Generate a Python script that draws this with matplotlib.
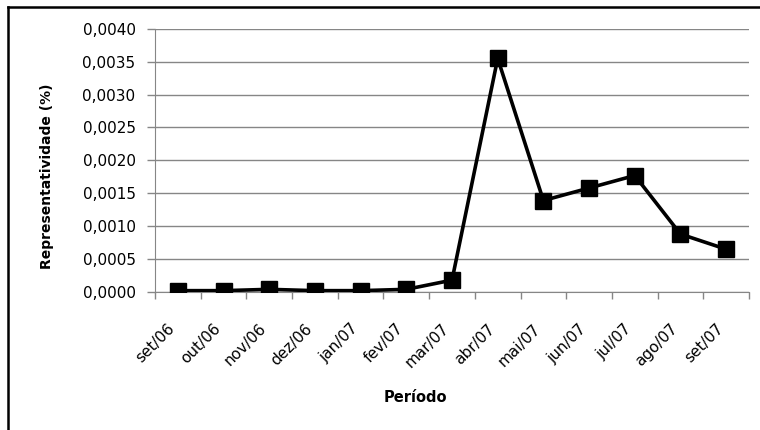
import matplotlib
matplotlib.use("Agg")
import matplotlib.pyplot as plt
from matplotlib.lines import Line2D
from matplotlib.ticker import FuncFormatter, FixedLocator, MultipleLocator

# dados
periodos = ['set/06', 'out/06', 'nov/06', 'dez/06', 'jan/07', 'fev/07', 'mar/07',
            'abr/07', 'mai/07', 'jun/07', 'jul/07', 'ago/07', 'set/07']
representatividade = [0.00002, 0.00002, 0.00004, 0.00002, 0.00002, 0.00004, 0.00018,
                      0.00355, 0.00139, 0.00158, 0.00177, 0.00088, 0.00065]

plt.rcParams['font.family'] = ['DejaVu Sans']

fig = plt.figure(figsize=(7.6, 4.3), dpi=100)
ax = fig.add_axes([0.204, 0.321, 0.7815, 0.612])

x = list(range(len(periodos)))
ax.plot(x, representatividade, color='black', linewidth=2.6,
        marker='s', markersize=12, markerfacecolor='black', zorder=3)

ax.set_xlim(-0.5, len(periodos) - 0.5)
ax.set_ylim(0, 0.004)
ax.yaxis.set_major_locator(MultipleLocator(0.0005))
ax.yaxis.set_major_formatter(FuncFormatter(lambda v, p: ('%.4f' % v).replace('.', ',')))
ax.grid(axis='y', color='#868686', linewidth=1.0)
ax.set_axisbelow(True)

# rotulos nas categorias, marcas entre as categorias
ax.set_xticks(x)
ax.set_xticklabels(periodos, rotation=45, ha='right', fontsize=11)
ax.tick_params(axis='x', which='major', length=0, pad=21)
ax.xaxis.set_minor_locator(FixedLocator([i - 0.5 for i in range(len(periodos) + 1)]))
ax.tick_params(axis='x', which='minor', length=5, color='#868686', width=1.0)
ax.tick_params(axis='y', length=6, color='#868686', width=1.0, labelsize=11, pad=8)

for s in ['top', 'right']:
    ax.spines[s].set_visible(False)
ax.spines['left'].set_color('#868686')
ax.spines['bottom'].set_color('#868686')

fig.text(47 / 760, 1 - 176 / 430, 'Representatividade (%)', rotation=90,
         ha='center', va='center', fontsize=10, fontweight='bold')
fig.text(415 / 760, 1 - 397 / 430, 'Período', ha='center', va='center',
         fontsize=10.5, fontweight='bold')

# moldura (esquerda e topo)
fig.add_artist(Line2D([8 / 760, 8 / 760], [0, 1 - 7 / 430], color='black', linewidth=1.8,
                      transform=fig.transFigure))
fig.add_artist(Line2D([8 / 760, 1], [1 - 7 / 430, 1 - 7 / 430], color='black', linewidth=1.8,
                      transform=fig.transFigure))

plt.savefig("out.png", dpi=100)
